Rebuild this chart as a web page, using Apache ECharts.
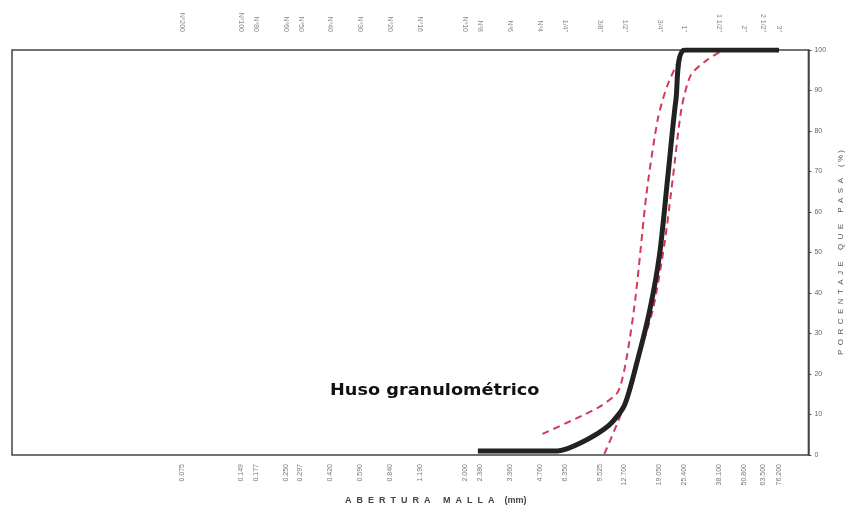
<!DOCTYPE html>
<html><head><meta charset="utf-8">
<script src="https://cdn.jsdelivr.net/npm/echarts@6/dist/echarts.min.js"></script>
<style>html,body{margin:0;padding:0;background:#fff}#c{width:853px;height:512px}</style>
</head><body><div id="c"></div>
<script>
// Sieve openings (mm) and their names
const sieveMm = [0.075, 0.149, 0.177, 0.250, 0.297, 0.420, 0.590, 0.840, 1.190, 2.000, 2.380, 3.360, 4.760, 6.350, 9.525, 12.700, 19.050, 25.400, 38.100, 50.800, 63.500, 76.200];
const mmLabels = ['0.075','0.149','0.177','0.250','0.297','0.420','0.590','0.840','1.190','2.000','2.380','3.360','4.760','6.350','9.525','12.700','19.050','25.400','38.100','50.800','63.500','76.200'];
const sieveNames = ['Nº200','Nº100','Nº80','Nº60','Nº50','Nº40','Nº30','Nº20','Nº16','Nº10','Nº8','Nº6','Nº4','1/4"','3/8"','1/2"','3/4"','1"','1 1/2"','2"','2 1/2"','3"'];
const yTicks = [0,10,20,30,40,50,60,70,80,90,100];

// Gradation curve (black)
const curveMm  = [2.32, 5.86, 7.80, 10.6, 12.7, 14.7, 17.0, 19.1, 21.0, 23.1, 25.6, 76.2];
const curvePct = [1, 1, 3.2, 7.3, 12.3, 23, 35.6, 49.7, 68.8, 88, 100, 100];
// Lower (fine) limit of the band – left dashed
const fineMm  = [4.91, 7.76, 9.73, 11.8, 13.1, 14.5, 16.4, 18.7, 20.9, 25.2];
const finePct = [5.2, 9.7, 12.2, 15.7, 24.7, 39.7, 64.6, 83, 91.3, 100];
// Upper (coarse) limit of the band – right dashed
const coarseMm  = [10.06, 12.3, 14.7, 17.6, 20.2, 22.3, 24.6, 27.4, 33.0, 39.9];
const coarsePct = [0.3, 10.6, 23.1, 35.6, 52.2, 68.8, 85.5, 93.8, 97.5, 100];

const lg = v => Math.log10(v);
const pairs = (xs, ys) => xs.map((x, i) => [lg(x), ys[i]]);
const logVals = sieveMm.map(lg);
const findIdx = v => { let b = 0, d = 1e9; logVals.forEach((l, i) => { const dd = Math.abs(l - v); if (dd < d) { d = dd; b = i; } }); return b; };
const spaced = s => s.split(' ').map(w => w.split('').join('  ')).join('     ');

const chart = echarts.init(document.getElementById('c'));
chart.setOption({
  backgroundColor: '#fff',
  animation: false,
  grid: { left: 12, right: 43, top: 50, bottom: 57, show: true, borderColor: '#444', borderWidth: 1.5, backgroundColor: 'transparent' },
  xAxis: [
    { type: 'value', position: 'bottom', min: -1.98, max: 2.03,
      axisLine: { show: false, onZero: false }, axisTick: { show: false }, splitLine: { show: false },
      axisLabel: { customValues: logVals, rotate: 90, fontSize: 7, color: '#777', margin: 9, fontFamily: 'Liberation Sans',
        formatter: v => mmLabels[findIdx(v)] } },
    { type: 'value', position: 'top', min: -1.98, max: 2.03,
      axisLine: { show: false, onZero: false }, axisTick: { show: false }, splitLine: { show: false },
      axisLabel: { customValues: logVals, rotate: 90, fontSize: 7, color: '#888', margin: 18, fontFamily: 'Liberation Sans',
        formatter: v => sieveNames[findIdx(v)] } }
  ],
  yAxis: [
    { type: 'value', position: 'right', min: 0, max: 100, interval: 10,
      axisLine: { show: true, onZero: false, lineStyle: { color: '#444', width: 1.5 } },
      axisTick: { show: true, inside: false, length: 3, lineStyle: { color: '#444' } },
      splitLine: { show: false },
      axisLabel: { fontSize: 7, color: '#666', margin: 6, fontFamily: 'Liberation Sans', customValues: yTicks },
      name: spaced('PORCENTAJE QUE PASA') + '     ( % )', nameLocation: 'middle', nameRotate: 90, nameGap: 20,
      nameTextStyle: { fontSize: 8, color: '#555', fontFamily: 'Liberation Sans' } }
  ],
  series: [
    { type: 'line', data: pairs(fineMm, finePct), symbol: 'none', smooth: 0.25,
      lineStyle: { color: '#d23a57', width: 2, type: [7, 5] }, z: 2 },
    { type: 'line', data: pairs(coarseMm, coarsePct), symbol: 'none', smooth: 0.25,
      lineStyle: { color: '#d23a57', width: 2, type: [7, 5] }, z: 2 },
    { type: 'line', data: pairs(curveMm, curvePct), symbol: 'none', smooth: 0.25,
      lineStyle: { color: '#222', width: 5 }, z: 3 }
  ],
  graphic: [
    { type: 'text', left: 330, top: 384, scaleX: 1.18, style: { text: 'Huso granulométrico', font: '900 15px "DejaVu Sans"', fill: '#111' } },
    { type: 'text', left: 345, top: 496, style: { text: spaced('ABERTURA MALLA') + '    (mm)', font: 'bold 9px "Liberation Sans"', fill: '#444' } }
  ]
});
</script>
</body></html>
